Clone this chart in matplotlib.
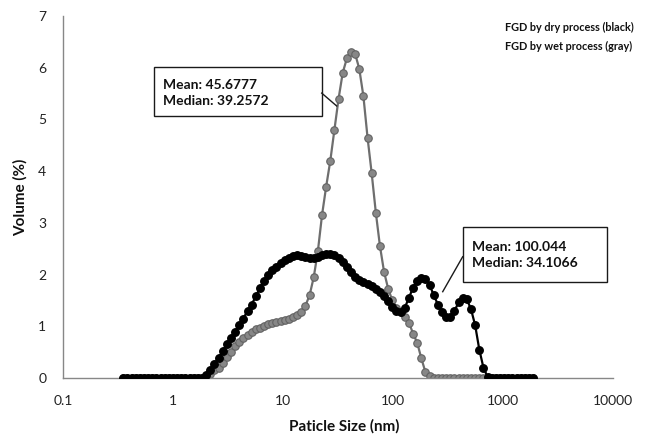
import matplotlib.pyplot as plt
from matplotlib.patches import Rectangle
from matplotlib.ticker import FixedLocator, FixedFormatter, NullLocator

plt.rcParams['font.family'] = ['Lato', 'DejaVu Sans']

# particle size channels (nm), geometric steps of 2^(1/8)
size_nm = [
    0.3536, 0.3856, 0.4204, 0.4585, 0.5, 0.5453, 0.5946, 0.6484, 0.7071, 0.7711,
    0.8409, 0.9170, 1.0, 1.0905, 1.1892, 1.2968, 1.4142, 1.5422, 1.6818, 1.8340,
    2.0, 2.181, 2.378, 2.594, 2.828, 3.084, 3.364, 3.668, 4.0, 4.362,
    4.757, 5.187, 5.657, 6.169, 6.727, 7.336, 8.0, 8.724, 9.514, 10.37,
    11.31, 12.34, 13.45, 14.67, 16.0, 17.45, 19.03, 20.75, 22.63, 24.68,
    26.91, 29.34, 32.0, 34.90, 38.05, 41.50, 45.25, 49.35, 53.82, 58.69,
    64.0, 69.79, 76.11, 83.00, 90.51, 98.70, 107.6, 117.4, 128.0, 139.6,
    152.2, 166.0, 181.0, 197.4, 215.3, 234.8, 256.0, 279.2, 304.4, 332.0,
    362.0, 394.8, 430.5, 469.5, 512.0, 558.3, 608.9, 664.0, 724.1, 789.6,
    861.1, 939.1, 1024, 1117, 1218, 1328, 1448, 1579, 1722, 1878,
]

# FGD by dry process (black)
dry_volume = [
    0, 0, 0, 0, 0, 0, 0, 0, 0, 0,
    0, 0, 0, 0, 0, 0, 0, 0, 0, 0,
    0.05, 0.15, 0.27, 0.39, 0.52, 0.65, 0.77, 0.89, 1.02, 1.15,
    1.30, 1.42, 1.58, 1.74, 1.88, 2.00, 2.08, 2.15, 2.23, 2.28,
    2.33, 2.36, 2.37, 2.36, 2.34, 2.32, 2.32, 2.34, 2.37, 2.39,
    2.40, 2.38, 2.32, 2.24, 2.15, 2.05, 1.96, 1.90, 1.86, 1.82,
    1.78, 1.73, 1.66, 1.58, 1.48, 1.38, 1.30, 1.28, 1.36, 1.55,
    1.75, 1.88, 1.94, 1.92, 1.80, 1.60, 1.42, 1.28, 1.18, 1.18,
    1.30, 1.46, 1.54, 1.52, 1.33, 1.02, 0.55, 0.20, 0.02, 0,
    0, 0, 0, 0, 0, 0, 0, 0, 0, 0,
]

# FGD by wet process (gray)
wet_volume = [
    0, 0, 0, 0, 0, 0, 0, 0, 0, 0,
    0, 0, 0, 0, 0, 0, 0, 0, 0, 0,
    0, 0.08, 0.15, 0.20, 0.29, 0.40, 0.51, 0.61, 0.69, 0.77,
    0.83, 0.89, 0.94, 0.97, 1.01, 1.04, 1.07, 1.09, 1.10, 1.12,
    1.14, 1.17, 1.21, 1.28, 1.40, 1.60, 1.95, 2.45, 3.15, 3.70,
    4.20, 4.80, 5.40, 5.90, 6.18, 6.30, 6.27, 5.98, 5.45, 4.65,
    3.96, 3.20, 2.55, 2.05, 1.72, 1.50, 1.36, 1.27, 1.18, 1.07,
    0.86, 0.68, 0.38, 0.11, 0.03, 0, 0, 0, 0, 0,
    0, 0, 0, 0, 0, 0, 0, 0, 0, 0,
    0, 0, 0, 0, 0, 0, 0, 0, 0, 0,
]

x_ticks = [0.1, 1, 10, 100, 1000, 10000]
x_tick_labels = ['0.1', '1', '10', '100', '1000', '10000']
y_ticks = [0, 1, 2, 3, 4, 5, 6, 7]

W, H = 648, 440
fig = plt.figure(figsize=(W / 100, H / 100), dpi=100)
ax = fig.add_axes([63 / W, 62 / H, 550 / W, 362 / H])

ax.plot(size_nm, wet_volume, color='#6e6e6e', lw=1.6, marker='o', ms=5.4,
        mfc='#878787', mec='#626262', mew=0.8, zorder=2)
ax.plot(size_nm, dry_volume, color='black', lw=1.6, marker='o', ms=5.4,
        mfc='black', mec='black', zorder=3)

ax.set_xscale('log')
ax.set_xlim(0.1, 10000)
ax.set_ylim(0, 7)
ax.xaxis.set_major_locator(FixedLocator(x_ticks))
ax.xaxis.set_major_formatter(FixedFormatter(x_tick_labels))
ax.xaxis.set_minor_locator(NullLocator())
ax.set_yticks(y_ticks)
ax.tick_params(length=0, labelsize=10, colors='#222222')
ax.tick_params(axis='y', pad=12)
ax.tick_params(axis='x', pad=12)
for side in ['top', 'right']:
    ax.spines[side].set_visible(False)
for side in ['left', 'bottom']:
    ax.spines[side].set_color('#878787')
    ax.spines[side].set_linewidth(1.0)
ax.patch.set_visible(False)

fig.text(344 / W, 1 - 426 / H, 'Paticle Size (nm)', ha='center', va='center',
         fontsize=11, fontweight='bold', color='#111111')
fig.text(20 / W, 1 - 197 / H, 'Volume (%)', ha='center', va='center',
         rotation=90, fontsize=11, fontweight='bold', color='#111111')

fig.text(505 / W, 1 - 27 / H, 'FGD by dry process (black)', ha='left', va='center',
         fontsize=7.8, fontweight='bold', color='#111111')
fig.text(505 / W, 1 - 46 / H, 'FGD by wet process (gray)', ha='left', va='center',
         fontsize=7.8, fontweight='bold', color='#111111')

# callout boxes with leader lines
callouts = [
    ('Mean: 45.6777\nMedian: 39.2572', (0.1655, 0.7238, 0.3049, 0.1345),
     (0.1813, 0.7867), [(0.4704, 0.787), (0.4976, 0.7514)]),
    ('Mean: 100.044\nMedian: 34.1066', (0.7267, 0.2660, 0.2624, 0.1511),
     (0.7431, 0.3398), [(0.7267, 0.335), (0.6904, 0.2384)]),
]
for text, (bx, by, bw, bh), (tx, ty), line in callouts:
    ax.add_patch(Rectangle((bx, by), bw, bh, transform=ax.transAxes,
                           facecolor='white', edgecolor='#1a1a1a', lw=1.0,
                           zorder=4, clip_on=False))
    ax.text(tx, ty, text, transform=ax.transAxes, ha='left', va='center',
            fontsize=10, fontweight='bold', color='#111111', linespacing=1.4,
            zorder=5)
    ax.plot([line[0][0], line[1][0]], [line[0][1], line[1][1]],
            transform=ax.transAxes, color='#1a1a1a', lw=1.0, zorder=4,
            clip_on=False)

fig.savefig('out.png', dpi=100)
